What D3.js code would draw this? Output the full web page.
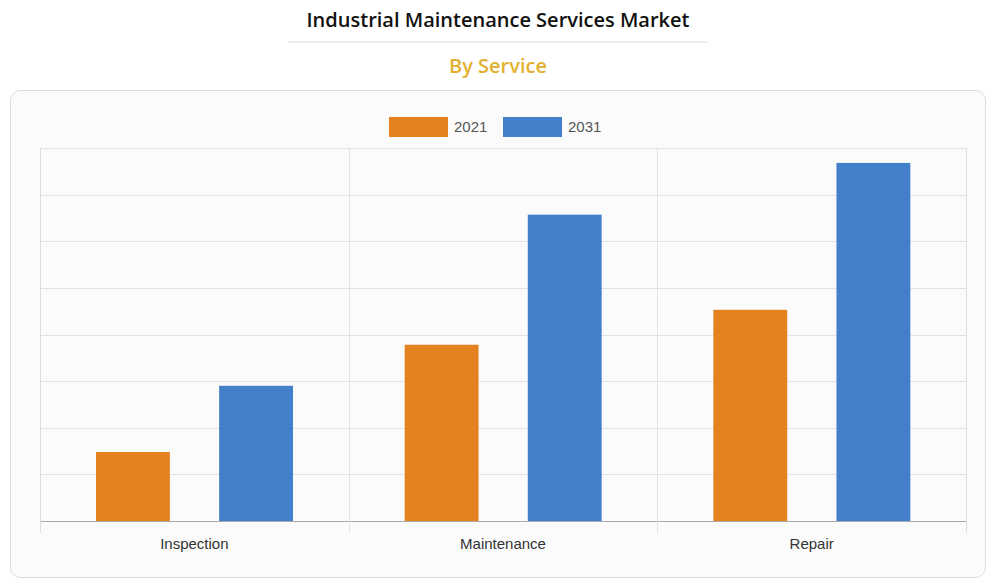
<!DOCTYPE html>
<html><head><meta charset="utf-8">
<script src="https://cdn.jsdelivr.net/npm/d3@7"></script>
<style>body{margin:0;background:#fff;}svg{display:block;}</style>
</head><body>
<svg id="chart" width="1000" height="585"></svg>
<script>
var categories = ["Inspection", "Maintenance", "Repair"];
var seriesNames = ["2021", "2031"];
var values2021 = [1.48, 3.78, 4.53];
var values2031 = [2.9, 6.57, 7.68];
var colors = ["#e3821f", "#447fc9"];

var svg = d3.select("#chart");
var margin = {left: 40, right: 34, top: 148, bottom: 64};
var W = 1000, H = 585;

// title block
svg.append("text").attr("x", 498).attr("y", 27).attr("text-anchor", "middle")
  .style("font-family", "Open Sans").style("font-weight", 600).style("font-size", "20px")
  .attr("fill", "#111").text("Industrial Maintenance Services Market");
svg.append("line").attr("x1", 288).attr("x2", 708).attr("y1", 42).attr("y2", 42)
  .attr("stroke", "#ddd");
svg.append("text").attr("x", 498).attr("y", 73).attr("text-anchor", "middle")
  .style("font-family", "Open Sans").style("font-weight", 600).style("font-size", "20px")
  .attr("fill", "#e0b22f").text("By Service");

// panel
svg.append("rect").attr("x", 10.5).attr("y", 90.5).attr("width", 975).attr("height", 487)
  .attr("rx", 10).attr("fill", "#fcfbfc").attr("stroke", "#ddd");

var x0 = d3.scaleBand().domain(categories).range([margin.left, W - margin.right]);
var x1 = d3.scaleBand().domain(seriesNames).range([56, 253]).paddingInner(0.4);
var y = d3.scaleLinear().domain([0, 8]).range([H - margin.bottom, margin.top]);

// gridlines
svg.append("g").selectAll("line").data(y.ticks(8)).join("line")
  .attr("x1", margin.left).attr("x2", W - margin.right)
  .attr("y1", function(d) { return Math.round(y(d)) + 0.5; })
  .attr("y2", function(d) { return Math.round(y(d)) + 0.5; })
  .attr("stroke", function(d) { return d === 0 ? "#aaa" : "#e2e2e2"; });

// category dividers
var edges = categories.map(function(c) { return x0(c); }).concat([W - margin.right]);
svg.append("g").selectAll("line").data(edges).join("line")
  .attr("x1", function(d) { return Math.round(d) + 0.5; })
  .attr("x2", function(d) { return Math.round(d) + 0.5; })
  .attr("y1", margin.top).attr("y2", H - margin.bottom + 12)
  .attr("stroke", function(d, i) { return (i === 0 || i === edges.length - 1) ? "#ddd" : "#e2e2e2"; });

// bars
var rows = categories.map(function(c, i) {
  return {cat: c, vals: [values2021[i], values2031[i]]};
});
var groups = svg.append("g").selectAll("g").data(rows).join("g")
  .attr("transform", function(d) { return "translate(" + x0(d.cat) + ",0)"; });
groups.selectAll("rect").data(function(d) {
  return d.vals.map(function(v, j) { return {s: seriesNames[j], v: v, c: colors[j]}; });
}).join("rect")
  .attr("x", function(d) { return x1(d.s); })
  .attr("width", x1.bandwidth())
  .attr("y", function(d) { return y(d.v); })
  .attr("height", function(d) { return y(0) - y(d.v); })
  .attr("fill", function(d) { return d.c; });

// x labels
svg.append("g").selectAll("text").data(categories).join("text")
  .attr("x", function(d) { return x0(d) + x0.bandwidth() / 2; })
  .attr("y", 549).attr("text-anchor", "middle")
  .style("font-family", "Liberation Sans, Arial").style("font-size", "15px")
  .attr("fill", "#333").text(function(d) { return d; });

// legend
var legend = svg.append("g").selectAll("g").data(seriesNames).join("g")
  .attr("transform", function(d, i) { return "translate(" + (389 + i * 114) + ",117)"; });
legend.append("rect").attr("width", 59).attr("height", 20)
  .attr("fill", function(d, i) { return colors[i]; });
legend.append("text").attr("x", 65).attr("y", 15)
  .style("font-family", "Liberation Sans, Arial").style("font-size", "15px")
  .attr("fill", "#555").text(function(d) { return d; });
</script>
</body></html>
